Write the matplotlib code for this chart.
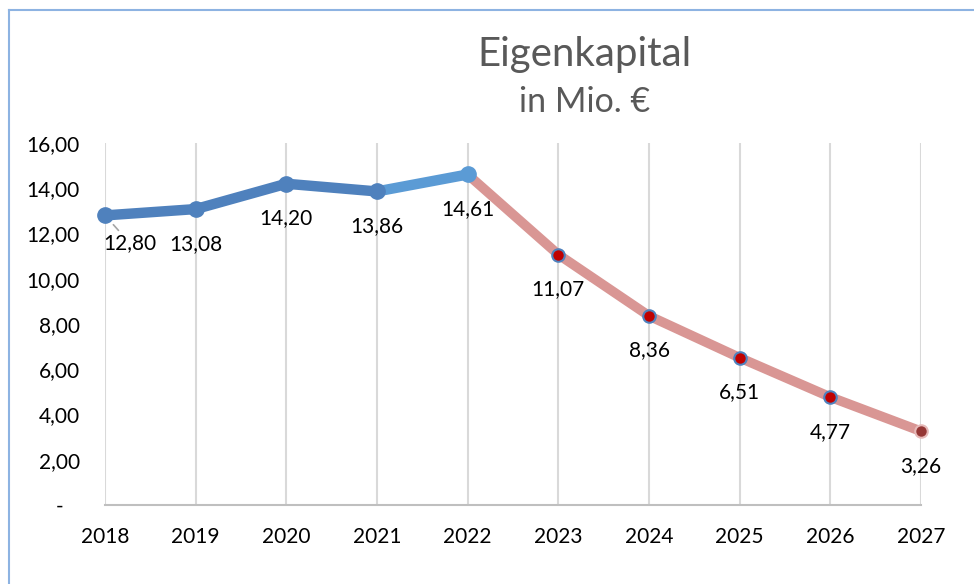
import matplotlib.pyplot as plt
from matplotlib.lines import Line2D

years = [2018, 2019, 2020, 2021, 2022, 2023, 2024, 2025, 2026, 2027]
actual_years = [2018, 2019, 2020, 2021, 2022]
actual = [12.80, 13.08, 14.20, 13.86, 14.61]
plan_years = [2022, 2023, 2024, 2025, 2026, 2027]
plan = [14.61, 11.07, 8.36, 6.51, 4.77, 3.26]
labels = ["12,80", "13,08", "14,20", "13,86", "14,61",
          "11,07", "8,36", "6,51", "4,77", "3,26"]
values = actual + plan[1:]
yticks = [0, 2, 4, 6, 8, 10, 12, 14, 16]
ytick_labels = ["-   ", "2,00", "4,00", "6,00", "8,00", "10,00", "12,00", "14,00", "16,00"]

plt.rcParams['font.family'] = ['Lato', 'DejaVu Sans']

fig = plt.figure(figsize=(9.74, 5.84), dpi=100)
ax = fig.add_axes([0.1078, 0.1353, 0.8378, 0.6198])

# Ist-Werte (blau), letzter Abschnitt etwas heller
ax.plot(actual_years[:4], actual[:4], color='#4F81BD', lw=7.5, solid_capstyle='round', zorder=3)
ax.plot(actual_years[3:], actual[3:], color='#5B9BD5', lw=7.5, solid_capstyle='round', zorder=3)
ax.plot(actual_years[:4], actual[:4], 'o', color='#4F81BD', ms=11, zorder=4)
ax.plot(actual_years[4:], actual[4:], 'o', color='#5B9BD5', ms=11, zorder=4)

# Planwerte (rot)
ax.plot(plan_years, plan, color='#D99694', lw=7, solid_capstyle='round', zorder=2)
ax.plot(plan_years[1:-1], plan[1:-1], 'o', color='#C00000', mec='#4F81BD', mew=1.5, ms=9, zorder=4)
ax.plot(plan_years[-1:], plan[-1:], 'o', color='#953735', mec='#E6B9B8', mew=1.5, ms=9, zorder=4)

# Datenbeschriftungen
for i, (x, y, t) in enumerate(zip(years, values, labels)):
    if i == 0:
        ax.annotate(t, (x, y), xytext=(18, -20), textcoords='offset points',
                    ha='center', va='center', fontsize=15, color='black',
                    arrowprops=dict(arrowstyle='-', color='#A6A6A6', lw=1.2,
                                    shrinkA=0, shrinkB=9))
    else:
        ax.annotate(t, (x, y), xytext=(0, -25), textcoords='offset points',
                    ha='center', va='center', fontsize=15, color='black')

ax.set_xlim(2018, 2027)
ax.set_ylim(0, 16)
ax.set_xticks(years)
ax.set_xticklabels([str(y) for y in years], fontsize=15)
ax.set_yticks(yticks)
ax.set_yticklabels(ytick_labels, fontsize=15)
ax.tick_params(axis='both', length=0)
ax.tick_params(axis='x', pad=16)
ax.tick_params(axis='y', pad=18)
ax.grid(axis='x', color='#D9D9D9', lw=1.5)
ax.set_axisbelow(True)
for s in ['left', 'right', 'top']:
    ax.spines[s].set_visible(False)
ax.spines['bottom'].set_color('#BFBFBF')
ax.spines['bottom'].set_linewidth(1.5)
for line in ax.lines:
    line.set_clip_on(False)

fig.text(0.6, 0.906, "Eigenkapital", ha='center', va='center', fontsize=29,
         color='#595959')
fig.text(0.6, 0.825, "in Mio. €", ha='center', va='center', fontsize=24.5,
         color='#595959')

# Rahmen des Diagrammbereichs (links und oben sichtbar)
fig.add_artist(Line2D([0.0092, 0.0092], [0, 0.983], color='#8DB3E2', lw=1.5))
fig.add_artist(Line2D([0.0092, 1], [0.983, 0.983], color='#8DB3E2', lw=1.5))

fig.savefig('out.png', dpi=100)
